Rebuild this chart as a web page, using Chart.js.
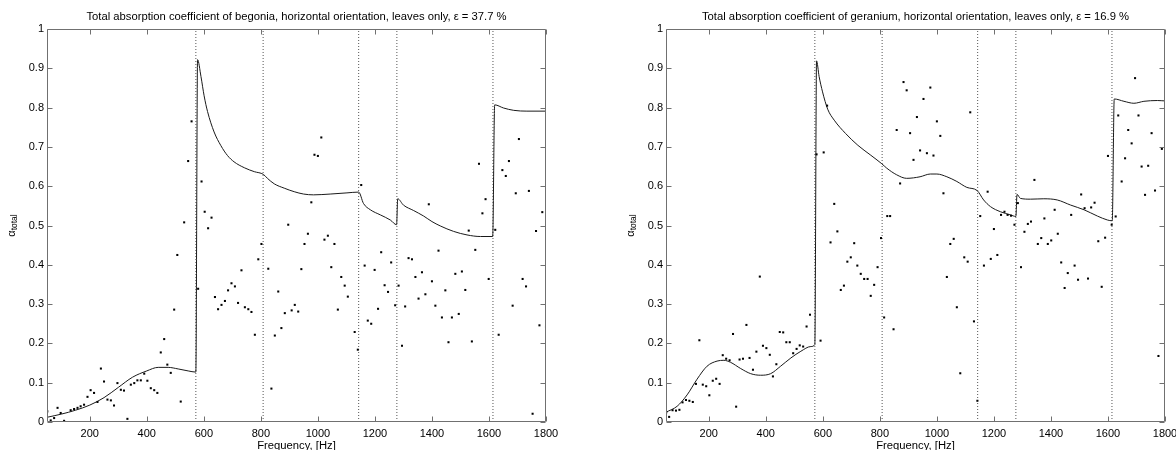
<!DOCTYPE html>
<html>
<head>
<meta charset="utf-8">
<script src="https://cdn.jsdelivr.net/npm/chart.js@4.4.1/dist/chart.umd.min.js"></script>
<style>
  html, body { margin: 0; padding: 0; background: #fff; overflow: hidden; width: 1176px; height: 450px; }
  canvas { position: absolute; top: 0; }
  #begonia { left: 0; }
  #geranium { left: 588px; }
</style>
</head>
<body>
<canvas id="begonia" width="588" height="460"></canvas>
<canvas id="geranium" width="600" height="460"></canvas>
<script>
/* ── Data ── */
const X_TICKS = [200, 400, 600, 800, 1000, 1200, 1400, 1600, 1800];
const Y_TICKS = [0, 0.1, 0.2, 0.3, 0.4, 0.5, 0.6, 0.7, 0.8, 0.9, 1];
const BOUNDARY_HZ = [572, 808, 1143, 1277, 1614];   // dotted vertical lines

const BEGONIA_TITLE = 'Total absorption coefficient of begonia, horizontal orientation, leaves only, \u03b5 = 37.7 %';
const GERANIUM_TITLE = 'Total absorption coefficient of geranium, horizontal orientation, leaves only, \u03b5 = 16.9 %';

// begonia measured points
const BEGONIA_HZ = [
  51, 63, 75, 87, 98, 110, 133, 145, 157, 168, 180, 192, 203, 215, 227, 239, 250, 262, 274, 285,
  297, 309, 320, 332, 344, 356, 367, 379, 391, 402, 414, 426, 437, 449, 461, 472, 484, 496, 507, 519,
  531, 545, 557, 580, 592, 603, 615, 627, 639, 650, 662, 674, 685, 697, 709, 720, 732, 744, 756, 767,
  779, 791, 802, 826, 837, 849, 861, 872, 884, 896, 908, 919, 931, 942, 953, 965, 977, 988, 1000, 1012,
  1023, 1035, 1047, 1058, 1070, 1082, 1094, 1105, 1129, 1140, 1152, 1164, 1175, 1187, 1199, 1211, 1222, 1234, 1246, 1257,
  1271, 1283, 1295, 1306, 1318, 1330, 1342, 1353, 1365, 1377, 1389, 1400, 1412, 1423, 1435, 1447, 1458, 1470, 1482, 1494,
  1505, 1517, 1529, 1540, 1552, 1565, 1577, 1588, 1599, 1622, 1634, 1647, 1659, 1670, 1683, 1694, 1705, 1718, 1730, 1740,
  1753, 1765, 1777, 1787, 1800
];
const BEGONIA_ALPHA = [
  0.027, 0.004, 0.010, 0.036, 0.023, 0.003, 0.030, 0.033, 0.036, 0.040, 0.044, 0.064, 0.081, 0.074, 0.051, 0.136, 0.103, 0.057, 0.055, 0.042,
  0.099, 0.082, 0.080, 0.008, 0.095, 0.099, 0.106, 0.106, 0.123, 0.105, 0.086, 0.081, 0.074, 0.177, 0.211, 0.146, 0.125, 0.286, 0.425, 0.052,
  0.508, 0.664, 0.765, 0.339, 0.612, 0.535, 0.493, 0.520, 0.318, 0.287, 0.298, 0.308, 0.335, 0.353, 0.345, 0.303, 0.386, 0.292, 0.287, 0.280,
  0.222, 0.414, 0.453, 0.390, 0.085, 0.220, 0.332, 0.239, 0.277, 0.502, 0.284, 0.298, 0.281, 0.389, 0.453, 0.479, 0.559, 0.680, 0.677, 0.724,
  0.464, 0.474, 0.394, 0.453, 0.286, 0.369, 0.347, 0.319, 0.229, 0.184, 0.603, 0.398, 0.258, 0.250, 0.387, 0.288, 0.432, 0.348, 0.331, 0.406,
  0.297, 0.347, 0.194, 0.294, 0.417, 0.414, 0.369, 0.314, 0.381, 0.325, 0.554, 0.358, 0.296, 0.436, 0.266, 0.335, 0.203, 0.266, 0.377, 0.275,
  0.383, 0.336, 0.487, 0.205, 0.438, 0.657, 0.531, 0.567, 0.364, 0.489, 0.222, 0.641, 0.626, 0.664, 0.296, 0.582, 0.720, 0.364, 0.345, 0.588,
  0.021, 0.486, 0.246, 0.534, 0.242
];

// begonia model curve
const BEGONIA_FIT_HZ = [
  50, 100, 150, 200, 250, 300, 350, 400, 440, 475, 510, 545, 572, 578, 590, 601, 613, 636, 660, 683,
  706, 742, 777, 809, 823, 847, 882, 917, 950, 985, 1043, 1102, 1143, 1160, 1184, 1219, 1254, 1276, 1280, 1300,
  1336, 1371, 1400, 1429, 1476, 1523, 1570, 1613, 1620, 1651, 1687, 1733, 1800
];
const BEGONIA_FIT_ALPHA = [
  0.012, 0.020, 0.030, 0.043, 0.062, 0.088, 0.114, 0.130, 0.139, 0.139, 0.135, 0.130, 0.127, 0.922, 0.879, 0.830, 0.790, 0.738, 0.703, 0.678,
  0.662, 0.647, 0.637, 0.630, 0.620, 0.606, 0.595, 0.586, 0.580, 0.578, 0.580, 0.583, 0.585, 0.556, 0.540, 0.527, 0.514, 0.502, 0.568, 0.552,
  0.538, 0.524, 0.510, 0.499, 0.485, 0.476, 0.472, 0.472, 0.807, 0.799, 0.793, 0.791, 0.791
];

// geranium measured points
const GERANIUM_HZ = [
  51, 61, 73, 85, 97, 108, 120, 132, 144, 155, 167, 179, 191, 202, 214, 226, 238, 249, 261, 273,
  285, 296, 308, 320, 332, 343, 355, 367, 379, 390, 402, 414, 425, 437, 449, 461, 472, 484, 496, 508,
  519, 531, 543, 555, 578, 592, 603, 615, 627, 640, 651, 663, 674, 686, 698, 710, 721, 733, 745, 757,
  768, 780, 792, 804, 815, 826, 836, 848, 859, 871, 883, 894, 906, 918, 930, 941, 953, 965, 977, 988,
  1000, 1012, 1023, 1035, 1047, 1059, 1070, 1082, 1096, 1108, 1117, 1130, 1142, 1152, 1165, 1178, 1189, 1200, 1212, 1225,
  1237, 1248, 1260, 1272, 1284, 1295, 1307, 1319, 1330, 1342, 1354, 1366, 1377, 1389, 1401, 1413, 1424, 1436, 1448, 1459,
  1471, 1483, 1495, 1506, 1518, 1530, 1541, 1553, 1566, 1578, 1590, 1600, 1613, 1627, 1636, 1648, 1660, 1671, 1683, 1695,
  1707, 1718, 1730, 1741, 1753, 1765, 1777, 1789, 1800
];
const GERANIUM_ALPHA = [
  0.025, 0.013, 0.030, 0.029, 0.031, 0.050, 0.056, 0.054, 0.051, 0.097, 0.208, 0.095, 0.091, 0.068, 0.105, 0.110, 0.097, 0.170, 0.161, 0.157,
  0.224, 0.039, 0.159, 0.161, 0.247, 0.163, 0.133, 0.179, 0.370, 0.194, 0.188, 0.171, 0.116, 0.147, 0.229, 0.228, 0.203, 0.203, 0.175, 0.186,
  0.195, 0.192, 0.243, 0.273, 0.681, 0.207, 0.686, 0.805, 0.457, 0.555, 0.485, 0.336, 0.347, 0.408, 0.419, 0.455, 0.398, 0.377, 0.364, 0.364,
  0.321, 0.349, 0.394, 0.468, 0.266, 0.524, 0.524, 0.236, 0.743, 0.607, 0.865, 0.844, 0.735, 0.667, 0.776, 0.691, 0.822, 0.684, 0.851, 0.678,
  0.765, 0.728, 0.582, 0.369, 0.453, 0.466, 0.292, 0.124, 0.419, 0.408, 0.788, 0.256, 0.054, 0.524, 0.398, 0.586, 0.415, 0.491, 0.425, 0.527,
  0.535, 0.527, 0.525, 0.502, 0.557, 0.394, 0.484, 0.504, 0.510, 0.616, 0.453, 0.468, 0.518, 0.453, 0.462, 0.540, 0.479, 0.406, 0.341, 0.379,
  0.527, 0.398, 0.362, 0.579, 0.544, 0.365, 0.546, 0.558, 0.460, 0.344, 0.469, 0.677, 0.502, 0.523, 0.780, 0.612, 0.671, 0.743, 0.709, 0.875,
  0.780, 0.650, 0.578, 0.652, 0.735, 0.589, 0.168, 0.695, 0.799
];

// geranium model curve
const GERANIUM_FIT_HZ = [
  50, 89, 124, 159, 194, 229, 253, 276, 312, 347, 382, 417, 452, 488, 523, 558, 572, 578, 587, 599,
  617, 640, 680, 723, 766, 807, 824, 859, 894, 941, 977, 1000, 1035, 1070, 1105, 1141, 1164, 1188, 1223, 1258,
  1277, 1281, 1293, 1328, 1375, 1422, 1469, 1516, 1563, 1598, 1615, 1622, 1656, 1691, 1726, 1773, 1800
];
const GERANIUM_FIT_ALPHA = [
  0.025, 0.040, 0.069, 0.109, 0.142, 0.155, 0.157, 0.152, 0.136, 0.123, 0.119, 0.123, 0.142, 0.163, 0.180, 0.192, 0.197, 0.919, 0.879, 0.840,
  0.796, 0.768, 0.734, 0.704, 0.680, 0.657, 0.646, 0.629, 0.620, 0.624, 0.631, 0.631, 0.624, 0.612, 0.597, 0.589, 0.565, 0.548, 0.535, 0.527,
  0.523, 0.579, 0.569, 0.567, 0.568, 0.565, 0.552, 0.540, 0.524, 0.514, 0.512, 0.822, 0.816, 0.811, 0.816, 0.818, 0.817
];

Chart.defaults.font.family = '"Liberation Sans", Arial, Helvetica, sans-serif';
Chart.defaults.color = '#000';

/* ── Box, inward ticks and α_total label (MATLAB look) ── */
const framePlugin = {
  id: 'frame',
  afterDatasetsDraw(chart) {
    const { ctx, chartArea: a, scales: { x, y } } = chart;
    const L = Math.round(a.left) + 0.5, R = Math.round(a.right) - 0.5;
    const T = Math.round(a.top) + 0.5, B = Math.round(a.bottom) - 0.5;
    ctx.save();
    ctx.strokeStyle = '#707070';
    ctx.lineWidth = 1;
    ctx.beginPath();
    ctx.rect(L, T, R - L, B - T);
    x.ticks.forEach(t => {
      const px = Math.round(x.getPixelForValue(t.value)) + 0.5;
      ctx.moveTo(px, B); ctx.lineTo(px, B - 5);
      ctx.moveTo(px, T); ctx.lineTo(px, T + 5);
    });
    y.ticks.forEach(t => {
      const py = Math.round(y.getPixelForValue(t.value)) + 0.5;
      ctx.moveTo(L, py); ctx.lineTo(L + 5, py);
      ctx.moveTo(R, py); ctx.lineTo(R - 5, py);
    });
    ctx.stroke();

    // y-axis label: alpha with subscript "total"
    const big = '11px "Liberation Sans", Arial, sans-serif';
    const small = '8.5px "Liberation Sans", Arial, sans-serif';
    ctx.fillStyle = '#000';
    ctx.translate(a.left - 32.5, (a.top + a.bottom) / 2);
    ctx.rotate(-Math.PI / 2);
    ctx.textBaseline = 'alphabetic';
    ctx.font = big;
    const wa = ctx.measureText('\u03b1').width;
    ctx.font = small;
    const wt = ctx.measureText('total').width;
    const x0 = -(wa + wt) / 2;
    ctx.font = big;
    ctx.fillText('\u03b1', x0, 0);
    ctx.font = small;
    ctx.fillText('total', x0 + wa, 2);
    ctx.restore();
  }
};

function makePanel(id, title, hz, alpha, fitHz, fitAlpha, yWidth, padRight) {
  const boundaries = BOUNDARY_HZ.map(v => ({
    type: 'line',
    data: [{ x: v, y: 0 }, { x: v, y: 1 }],
    borderColor: '#555',
    borderWidth: 1,
    borderDash: [1, 2],
    pointRadius: 0,
    fill: false
  }));

  return new Chart(document.getElementById(id), {
    type: 'scatter',
    data: {
      datasets: [
        {
          label: 'measured',
          data: hz.map((h, i) => ({ x: h, y: alpha[i] })),
          pointStyle: 'rect', pointRadius: 1.45, borderWidth: 0,
          backgroundColor: '#000'
        },
        {
          type: 'line',
          label: 'model',
          data: fitHz.map((h, i) => ({ x: h, y: fitAlpha[i] })),
          borderColor: '#1a1a1a', borderWidth: 1,
          pointRadius: 0, fill: false,
          cubicInterpolationMode: 'monotone'
        },
        ...boundaries
      ]
    },
    options: {
      responsive: false,
      animation: false,
      layout: { padding: { left: 0, right: padRight, top: 0, bottom: 0 } },
      plugins: {
        legend: { display: false },
        tooltip: { enabled: false },
        title: {
          display: true, text: title, fullSize: false,
          font: { size: 11.25, weight: 'normal' }, color: '#000',
          padding: { top: 10, bottom: 5.5 }
        }
      },
      scales: {
        x: {
          type: 'linear', min: 50, max: 1800,
          afterBuildTicks: s => { s.ticks = X_TICKS.map(v => ({ value: v })); },
          afterFit: s => { s.height = 38; },
          grid: { display: false, drawTicks: false },
          border: { display: false },
          ticks: { callback: v => String(v), padding: 5, maxRotation: 0, autoSkip: false, font: { size: 11 }, color: '#000' },
          title: { display: true, text: 'Frequency, [Hz]', font: { size: 11.25 }, color: '#000', padding: { top: 0, bottom: 7.25 } }
        },
        y: {
          type: 'linear', min: 0, max: 1,
          afterBuildTicks: s => { s.ticks = Y_TICKS.map(v => ({ value: v })); },
          afterFit: s => { s.width = yWidth; },
          grid: { display: false, drawTicks: false },
          border: { display: false },
          ticks: { callback: v => String(v), padding: 3, autoSkip: false, font: { size: 11 }, color: '#000' }
        }
      }
    },
    plugins: [framePlugin]
  });
}

makePanel('begonia', BEGONIA_TITLE, BEGONIA_HZ, BEGONIA_ALPHA, BEGONIA_FIT_HZ, BEGONIA_FIT_ALPHA, 47, 42);
makePanel('geranium', GERANIUM_TITLE, GERANIUM_HZ, GERANIUM_ALPHA, GERANIUM_FIT_HZ, GERANIUM_FIT_ALPHA, 78, 23);
</script>
</body>
</html>
